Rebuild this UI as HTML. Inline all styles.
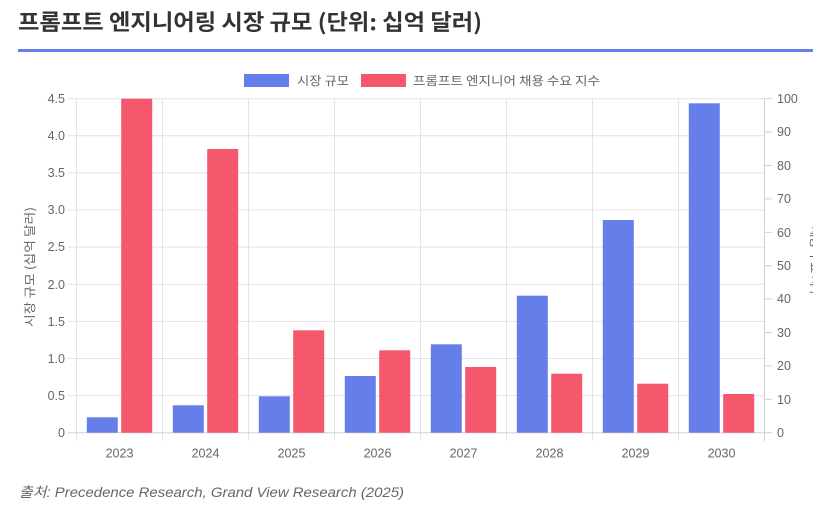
<!DOCTYPE html>
<html><head><meta charset="utf-8">
<style>
html,body{margin:0;padding:0;background:#fff;width:813px;height:508px;overflow:hidden;}
svg{display:block;}
text{font-family:"Liberation Sans","Noto Sans CJK KR",sans-serif;}
</style></head>
<body>
<svg width="813" height="508" viewBox="0 0 813 508" xmlns="http://www.w3.org/2000/svg">
<rect width="813" height="508" fill="#fff"/>
<!-- Title -->
<text x="18" y="30" font-size="22" font-weight="bold" fill="#333" textLength="464" lengthAdjust="spacingAndGlyphs" style="font-family:'Noto Sans CJK KR','Liberation Sans',sans-serif">프롬프트 엔지니어링 시장 규모 (단위: 십억 달러)</text>
<rect x="18" y="49" width="795" height="3" fill="#667eea"/>

<!-- Legend -->
<rect x="244" y="74" width="45" height="13" fill="#667eea"/>
<text x="297" y="85" font-size="12" fill="#666" textLength="52" lengthAdjust="spacingAndGlyphs" style="font-family:'Noto Sans CJK KR',sans-serif">시장 규모</text>
<rect x="361" y="74" width="45" height="13" fill="#f5576c"/>
<text x="413" y="85" font-size="12" fill="#666" textLength="187" lengthAdjust="spacingAndGlyphs" style="font-family:'Noto Sans CJK KR',sans-serif">프롬프트 엔지니어 채용 수요 지수</text>

<!-- Grid -->
<g stroke="#e4e4e4" stroke-width="1">
  <line x1="68" x2="764.5" y1="98.7" y2="98.7"/>
  <line x1="68" x2="764.5" y1="135.8" y2="135.8"/>
  <line x1="68" x2="764.5" y1="172.9" y2="172.9"/>
  <line x1="68" x2="764.5" y1="210.0" y2="210.0"/>
  <line x1="68" x2="764.5" y1="247.1" y2="247.1"/>
  <line x1="68" x2="764.5" y1="284.3" y2="284.3"/>
  <line x1="68" x2="764.5" y1="321.4" y2="321.4"/>
  <line x1="68" x2="764.5" y1="358.5" y2="358.5"/>
  <line x1="68" x2="764.5" y1="395.6" y2="395.6"/>
  <line x1="76.5" x2="76.5" y1="98.7" y2="441"/>
  <line x1="162.5" x2="162.5" y1="98.7" y2="441"/>
  <line x1="248.5" x2="248.5" y1="98.7" y2="441"/>
  <line x1="334.5" x2="334.5" y1="98.7" y2="441"/>
  <line x1="420.5" x2="420.5" y1="98.7" y2="441"/>
  <line x1="506.5" x2="506.5" y1="98.7" y2="441"/>
  <line x1="592.5" x2="592.5" y1="98.7" y2="441"/>
  <line x1="678.5" x2="678.5" y1="98.7" y2="441"/>
</g>
<g stroke="#d0d0d0" stroke-width="1">
  <line x1="68" x2="764.5" y1="432.7" y2="432.7"/>
  <line x1="764.5" x2="764.5" y1="98.7" y2="441"/>
  <line x1="764.5" x2="772" y1="98.7" y2="98.7"/>
  <line x1="764.5" x2="772" y1="132.1" y2="132.1"/>
  <line x1="764.5" x2="772" y1="165.5" y2="165.5"/>
  <line x1="764.5" x2="772" y1="198.9" y2="198.9"/>
  <line x1="764.5" x2="772" y1="232.3" y2="232.3"/>
  <line x1="764.5" x2="772" y1="265.7" y2="265.7"/>
  <line x1="764.5" x2="772" y1="299.1" y2="299.1"/>
  <line x1="764.5" x2="772" y1="332.5" y2="332.5"/>
  <line x1="764.5" x2="772" y1="365.9" y2="365.9"/>
  <line x1="764.5" x2="772" y1="399.3" y2="399.3"/>
  <line x1="764.5" x2="772" y1="432.7" y2="432.7"/>
</g>

<!-- Bars blue -->
<g fill="#667eea">
  <rect x="86.8" y="417.3" width="31" height="15.4"/>
  <rect x="172.8" y="405.3" width="31" height="27.4"/>
  <rect x="258.8" y="396.3" width="31" height="36.4"/>
  <rect x="344.8" y="376" width="31" height="56.7"/>
  <rect x="430.8" y="344.3" width="31" height="88.4"/>
  <rect x="516.8" y="295.7" width="31" height="137"/>
  <rect x="602.8" y="220" width="31" height="212.7"/>
  <rect x="688.8" y="103.3" width="31" height="329.4"/>
</g>
<!-- Bars red -->
<g fill="#f5576c">
  <rect x="121.2" y="98.7" width="31" height="334"/>
  <rect x="207.2" y="149" width="31" height="283.7"/>
  <rect x="293.2" y="330.3" width="31" height="102.4"/>
  <rect x="379.2" y="350.3" width="31" height="82.4"/>
  <rect x="465.2" y="367" width="31" height="65.7"/>
  <rect x="551.2" y="373.7" width="31" height="59"/>
  <rect x="637.2" y="383.7" width="31" height="49"/>
  <rect x="723.2" y="394" width="31" height="38.7"/>
</g>

<!-- Left ticks -->
<g font-size="12.5" fill="#666" text-anchor="end">
  <text x="65" y="103">4.5</text>
  <text x="65" y="140">4.0</text>
  <text x="65" y="177">3.5</text>
  <text x="65" y="214">3.0</text>
  <text x="65" y="251">2.5</text>
  <text x="65" y="289">2.0</text>
  <text x="65" y="326">1.5</text>
  <text x="65" y="363">1.0</text>
  <text x="65" y="400">0.5</text>
  <text x="65" y="437">0</text>
</g>
<!-- Right ticks -->
<g font-size="12.5" fill="#666" text-anchor="start">
  <text x="777" y="103">100</text>
  <text x="777" y="136">90</text>
  <text x="777" y="170">80</text>
  <text x="777" y="203">70</text>
  <text x="777" y="237">60</text>
  <text x="777" y="270">50</text>
  <text x="777" y="303">40</text>
  <text x="777" y="337">30</text>
  <text x="777" y="370">20</text>
  <text x="777" y="404">10</text>
  <text x="777" y="437">0</text>
</g>
<!-- X labels -->
<g font-size="12.5" fill="#666" text-anchor="middle">
  <text x="119.5" y="457.5">2023</text>
  <text x="205.5" y="457.5">2024</text>
  <text x="291.5" y="457.5">2025</text>
  <text x="377.5" y="457.5">2026</text>
  <text x="463.5" y="457.5">2027</text>
  <text x="549.5" y="457.5">2028</text>
  <text x="635.5" y="457.5">2029</text>
  <text x="721.5" y="457.5">2030</text>
</g>

<!-- Axis titles -->
<text transform="translate(34,267) rotate(-90)" font-size="12" fill="#666" text-anchor="middle" textLength="120" lengthAdjust="spacingAndGlyphs" style="font-family:'Noto Sans CJK KR',sans-serif">시장 규모 (십억 달러)</text>
<text transform="translate(811,262) rotate(90)" font-size="12" fill="#666" text-anchor="middle" style="font-family:'Noto Sans CJK KR',sans-serif">채용 수요 지수</text>

<!-- Footer -->
<text x="19" y="497" font-size="14" font-style="italic" fill="#666" textLength="385" lengthAdjust="spacingAndGlyphs">출처: Precedence Research, Grand View Research (2025)</text>
</svg>
</body></html>
